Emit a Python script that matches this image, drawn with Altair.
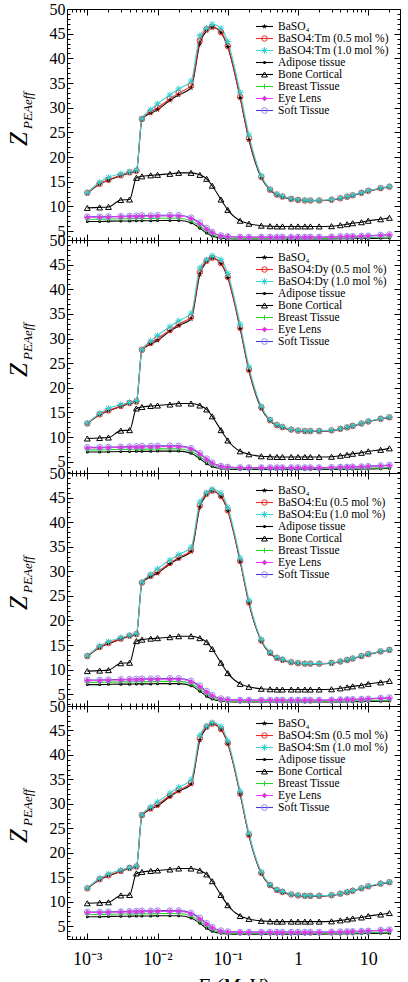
import altair as alt
import pandas as pd

# Photon energies (MeV) shared by every series
energy = [0.001, 0.0015, 0.002, 0.003, 0.004, 0.005, 0.006, 0.008, 0.01, 0.015,
          0.02, 0.03, 0.04, 0.05, 0.06, 0.08, 0.1, 0.15, 0.2, 0.3, 0.4, 0.5, 0.6,
          0.8, 1.0, 1.25, 1.5, 2.0, 3.0, 4.0, 5.0, 6.0, 8.0, 10.0, 15.0, 20.0]

# Z_PEAeff of the host and the doped phosphors
baso4 = [12.7, 14.5, 15.3, 16.2, 16.8, 17.1, 27.65, 28.9, 29.6, 31.5, 32.6, 34.0,
         43.0, 45.6, 46.3, 45.2, 42.3, 32.0, 23.5, 15.8, 13.3, 12.3, 11.9, 11.45,
         11.25, 11.15, 11.15, 11.15, 11.3, 11.6, 11.9, 12.2, 12.7, 13.1, 13.65, 13.95]

tm_05 = [12.75, 14.6, 15.4, 16.3, 16.9, 17.2, 27.7, 29.2, 30.0, 31.8, 33.0, 34.5,
         43.6, 45.9, 46.4, 45.3, 42.5, 32.2, 23.8, 16.0, 13.4, 12.4, 12.0, 11.5,
         11.3, 11.2, 11.2, 11.2, 11.35, 11.65, 11.95, 12.25, 12.75, 13.15, 13.7, 14.0]
tm_10 = [12.8, 14.9, 15.9, 16.6, 17.0, 17.4, 27.75, 29.6, 30.8, 32.6, 33.8, 35.4,
         44.6, 46.1, 46.9, 46.1, 43.4, 33.1, 24.5, 16.2, 13.5, 12.5, 12.1, 11.55,
         11.35, 11.25, 11.25, 11.25, 11.4, 11.7, 12.0, 12.3, 12.8, 13.2, 13.75, 14.05]

dy_05 = [12.75, 14.6, 15.4, 16.3, 16.9, 17.2, 27.7, 29.1, 30.0, 31.7, 32.9, 34.4,
         43.5, 45.8, 46.4, 45.3, 42.5, 32.2, 23.7, 16.0, 13.4, 12.4, 12.0, 11.5,
         11.3, 11.2, 11.2, 11.2, 11.35, 11.65, 11.95, 12.25, 12.75, 13.15, 13.7, 14.0]
dy_10 = [12.8, 14.8, 15.8, 16.6, 17.0, 17.4, 27.75, 29.5, 30.6, 32.4, 33.6, 35.1,
         44.3, 46.0, 46.8, 46.0, 43.2, 32.9, 24.3, 16.2, 13.5, 12.5, 12.1, 11.55,
         11.35, 11.25, 11.25, 11.25, 11.4, 11.7, 12.0, 12.3, 12.8, 13.2, 13.75, 14.05]

eu_05 = [12.75, 14.6, 15.4, 16.3, 16.9, 17.2, 27.7, 29.1, 29.9, 31.7, 32.8, 34.3,
         43.4, 45.8, 46.4, 45.3, 42.4, 32.1, 23.7, 15.9, 13.4, 12.4, 12.0, 11.5,
         11.3, 11.2, 11.2, 11.2, 11.35, 11.65, 11.95, 12.25, 12.75, 13.15, 13.7, 14.0]
eu_10 = [12.8, 14.8, 15.7, 16.5, 17.0, 17.3, 27.75, 29.4, 30.5, 32.3, 33.4, 34.9,
         44.1, 46.0, 46.7, 45.9, 43.0, 32.7, 24.1, 16.1, 13.5, 12.5, 12.1, 11.55,
         11.35, 11.25, 11.25, 11.25, 11.4, 11.7, 12.0, 12.3, 12.8, 13.2, 13.75, 14.05]

sm_05 = [12.75, 14.6, 15.4, 16.3, 16.9, 17.2, 27.7, 29.1, 29.9, 31.7, 32.8, 34.3,
         43.4, 45.8, 46.4, 45.3, 42.4, 32.1, 23.7, 15.9, 13.4, 12.4, 12.0, 11.5,
         11.3, 11.2, 11.2, 11.2, 11.35, 11.65, 11.95, 12.25, 12.75, 13.15, 13.7, 14.0]
sm_10 = [12.8, 14.8, 15.7, 16.5, 17.0, 17.3, 27.75, 29.4, 30.4, 32.2, 33.4, 34.9,
         44.0, 45.9, 46.6, 45.8, 42.9, 32.6, 24.0, 16.1, 13.5, 12.5, 12.1, 11.55,
         11.35, 11.25, 11.25, 11.25, 11.4, 11.7, 12.0, 12.3, 12.8, 13.2, 13.75, 14.05]

# Reference tissues
adipose = [6.95, 6.95, 7.0, 7.05, 7.05, 7.1, 7.1, 7.1, 7.15, 7.15, 7.15, 6.7,
           5.6, 4.6, 4.0, 3.55, 3.45, 3.4, 3.4, 3.4, 3.4, 3.4, 3.4, 3.4,
           3.4, 3.4, 3.4, 3.4, 3.42, 3.44, 3.46, 3.48, 3.5, 3.52, 3.56, 3.6]
bone_cortical = [9.7, 9.8, 9.9, 11.3, 11.4, 15.8, 16.1, 16.3, 16.4, 16.6, 16.8, 16.8,
                 16.4, 15.6, 14.2, 11.4, 9.3, 7.1, 6.5, 6.1, 6.0, 5.95, 5.95, 5.95,
                 5.95, 5.95, 5.95, 5.95, 6.0, 6.2, 6.4, 6.6, 6.8, 7.1, 7.4, 7.7]
breast_tissue = [7.4, 7.4, 7.45, 7.5, 7.5, 7.55, 7.55, 7.55, 7.6, 7.6, 7.6, 7.1,
                 6.0, 5.0, 4.3, 3.75, 3.6, 3.55, 3.55, 3.55, 3.55, 3.55, 3.55, 3.55,
                 3.55, 3.55, 3.55, 3.55, 3.58, 3.6, 3.62, 3.64, 3.67, 3.7, 3.75, 3.8]
eye_lens = [7.8, 7.8, 7.85, 7.9, 7.95, 7.95, 8.0, 8.0, 8.05, 8.05, 8.05, 7.55,
            6.5, 5.45, 4.7, 4.0, 3.85, 3.75, 3.75, 3.75, 3.75, 3.75, 3.75, 3.75,
            3.75, 3.75, 3.75, 3.75, 3.8, 3.85, 3.9, 3.92, 3.97, 4.02, 4.12, 4.2]
soft_tissue = [7.9, 7.9, 7.95, 8.0, 8.05, 8.1, 8.15, 8.15, 8.2, 8.2, 8.2, 7.7,
               6.7, 5.6, 4.8, 4.1, 3.9, 3.8, 3.8, 3.8, 3.8, 3.8, 3.8, 3.8,
               3.8, 3.8, 3.8, 3.8, 3.85, 3.9, 3.92, 3.95, 4.0, 4.05, 4.2, 4.3]

dopants = ["Tm", "Dy", "Eu", "Sm"]
dopant_05 = [tm_05, dy_05, eu_05, sm_05]
dopant_10 = [tm_10, dy_10, eu_10, sm_10]

FONT = "Liberation Serif"
X_DOMAIN = [5.14e-4, 28.3]
PANEL_W = 333
panel_heights = [231, 233, 233, 233]
panel_ymin = [3.2, 2.7, 2.6, 2.4]

X_MAJOR = [0.001, 0.01, 0.1, 1, 10]
X_MINOR = [m * 10.0 ** p for p in range(-4, 2) for m in range(2, 10)
           if X_DOMAIN[0] <= m * 10.0 ** p <= X_DOMAIN[1]]
Y_MAJOR = list(range(5, 51, 5))
Y_MINOR = [v for v in range(3, 50) if v % 5]

STAR = ("M0,-1L0.2245,-0.309L0.951,-0.309L0.363,0.118L0.588,0.809L0,0.382"
        "L-0.588,0.809L-0.363,0.118L-0.951,-0.309L-0.2245,-0.309Z")
ASTER = "M-1,0L1,0M0,-1L0,1M-0.75,-0.75L0.75,0.75M-0.75,0.75L0.75,-0.75"
PLUS = "M-1,0L1,0M0,-1L0,1"

DRAW_ORDER = ["adipose", "breast", "soft", "eye", "bone", "baso4", "d05", "d10"]
LEGEND_ORDER = ["baso4", "d05", "d10", "adipose", "bone", "breast", "eye", "soft"]

LINE_COLOR = {"baso4": "#000000", "d05": "#ee2a26", "d10": "#3ad6d6",
              "adipose": "#000000", "bone": "#000000", "breast": "#2ad12a",
              "eye": "#f03cf0", "soft": "#4a3cd0"}

# marker style per series: (shape, size, filled, colour)
MARKER = {"baso4": (STAR, 34, True, "#000000"),
          "d05": ("circle", 30, False, "#e8302c"),
          "d10": (ASTER, 42, False, "#33d0d0"),
          "adipose": ("circle", 9, True, "#000000"),
          "bone": ("triangle-up", 34, False, "#000000"),
          "breast": (PLUS, 26, False, "#2ad12a"),
          "eye": ("diamond", 30, True, "#dd38dd"),
          "soft": ("circle", 34, False, "#9588f0")}

LEG_TOP, LEG_STEP = 17.5, 12
LEG_X0, LEG_X1, LEG_XM, LEG_XT = 189, 206, 197.5, 211


def x_label_expr():
    return ("datum.value < 0.0015 ? '10\u207b\u00b3' : datum.value < 0.015 ? '10\u207b\u00b2' : "
            "datum.value < 0.15 ? '10\u207b\u00b9' : datum.value < 1.5 ? '1' : '10'")


def make_panel(i):
    h = panel_heights[i]
    last = i == len(dopants) - 1
    dop = dopants[i]
    values = {"baso4": baso4, "d05": dopant_05[i], "d10": dopant_10[i],
              "adipose": adipose, "bone": bone_cortical, "breast": breast_tissue,
              "eye": eye_lens, "soft": soft_tissue}
    labels = {"baso4": "BaSO\u2084", "d05": f"BaSO4:{dop} (0.5 mol %)",
              "d10": f"BaSO4:{dop} (1.0 mol %)", "adipose": "Adipose tissue",
              "bone": "Bone Cortical", "breast": "Breast Tissue",
              "eye": "Eye Lens", "soft": "Soft Tissue"}

    rows = [{"E": e, "Z": z, "key": k} for k in DRAW_ORDER for e, z in zip(energy, values[k])]
    df = pd.DataFrame(rows)
    leg = pd.DataFrame({"key": LEGEND_ORDER,
                        "label": [labels[k] for k in LEGEND_ORDER],
                        "idx": list(range(len(LEGEND_ORDER)))})

    xs = alt.Scale(type="log", domain=X_DOMAIN, nice=False)
    ys = alt.Scale(domain=[panel_ymin[i], 50], nice=False, zero=False)

    tk = dict(domain=False, grid=False, labels=False, ticks=True,
              tickColor="black", tickWidth=1, title=None)
    x_axes = [
        alt.Axis(orient="top", offset=-h, values=X_MAJOR, tickSize=6, **tk),
        alt.Axis(orient="top", offset=-h, values=X_MINOR, tickSize=3, **tk),
        alt.Axis(orient="bottom", offset=-h, values=X_MAJOR, tickSize=6, **tk),
        alt.Axis(orient="bottom", offset=-h, values=X_MINOR, tickSize=3, **tk),
        alt.Axis(orient="bottom", values=X_MAJOR, ticks=False, domain=False, grid=False,
                 labels=last, labelExpr=x_label_expr(), labelFont=FONT,
                 labelFontSize=18, labelColor="black", labelPadding=11, title=None),
    ]
    y_axes = [
        alt.Axis(orient="right", offset=-PANEL_W, values=Y_MAJOR, tickSize=6, **tk),
        alt.Axis(orient="right", offset=-PANEL_W, values=Y_MINOR, tickSize=3, **tk),
        alt.Axis(orient="left", offset=-PANEL_W, values=Y_MAJOR, tickSize=6, **tk),
        alt.Axis(orient="left", offset=-PANEL_W, values=Y_MINOR, tickSize=3, **tk),
        alt.Axis(orient="left", values=Y_MAJOR, ticks=False, domain=False, grid=False,
                 labelFont=FONT, labelFontSize=16, labelColor="black",
                 labelPadding=2, labelFlush=False, title=None),
    ]

    layers = []
    # curves
    for n, k in enumerate(DRAW_ORDER):
        layers.append(
            alt.Chart(df).transform_filter(alt.datum.key == k)
            .mark_line(color=LINE_COLOR[k], strokeWidth=1.1, interpolate="monotone")
            .encode(x=alt.X("E:Q", scale=xs, axis=x_axes[n] if n < 5 else None),
                    y=alt.Y("Z:Q", scale=ys, axis=y_axes[n] if n < 5 else None))
        )
    # markers
    for k in DRAW_ORDER:
        shape, size, filled, col = MARKER[k]
        layers.append(
            alt.Chart(df).transform_filter(alt.datum.key == k)
            .mark_point(shape=shape, size=size, filled=filled, color=col,
                        strokeWidth=1, opacity=1)
            .encode(x=alt.X("E:Q", scale=xs, axis=None),
                    y=alt.Y("Z:Q", scale=ys, axis=None))
        )

    # legend
    leg_base = alt.Chart(leg).transform_calculate(ly=f"{LEG_TOP} + datum.idx * {LEG_STEP}")
    layers.append(
        leg_base.mark_rule(strokeWidth=1.1).encode(
            x=alt.value(LEG_X0), x2=alt.value(LEG_X1),
            y=alt.Y("ly:Q", scale=None, axis=None),
            color=alt.Color("key:N", scale=alt.Scale(domain=LEGEND_ORDER,
                            range=[LINE_COLOR[k] for k in LEGEND_ORDER]), legend=None))
    )
    for k in LEGEND_ORDER:
        shape, size, filled, col = MARKER[k]
        layers.append(
            leg_base.transform_filter(alt.datum.key == k)
            .mark_point(shape=shape, size=size, filled=filled, color=col,
                        strokeWidth=1, opacity=1)
            .encode(x=alt.value(LEG_XM), y=alt.Y("ly:Q", scale=None, axis=None))
        )
    layers.append(
        leg_base.mark_text(align="left", baseline="middle", font=FONT,
                           fontSize=11.5, color="black")
        .encode(x=alt.value(LEG_XT), y=alt.Y("ly:Q", scale=None, axis=None),
                text="label:N")
    )

    # y title: Z with subscript PEAeff
    layers.append(
        alt.Chart(pd.DataFrame({"t": ["Z"]}))
        .mark_text(angle=270, align="center", baseline="middle", font=FONT,
                   fontStyle="italic", fontSize=25, color="black")
        .encode(text="t:N", x=alt.value(-48.5), y=alt.value(130))
    )
    layers.append(
        alt.Chart(pd.DataFrame({"t": ["PEAeff"]}))
        .mark_text(angle=270, align="center", baseline="middle", font=FONT,
                   fontStyle="italic", fontSize=13, color="black")
        .encode(text="t:N", x=alt.value(-39.5), y=alt.value(101.5))
    )
    if last:
        layers.append(
            alt.Chart(pd.DataFrame({"t": ["E (MeV)"]}))
            .mark_text(align="center", baseline="top", font=FONT,
                       fontStyle="italic", fontSize=21, color="black")
            .encode(text="t:N", x=alt.value(166), y=alt.value(h + 37))
        )

    return (alt.layer(*layers)
            .resolve_axis(x="independent", y="independent")
            .properties(width=PANEL_W, height=h))


chart = (
    alt.vconcat(*[make_panel(i) for i in range(len(dopants))], spacing=0, bounds="flush")
    .properties(padding={"left": 6, "top": 0, "right": 0, "bottom": 0},
                background="white")
    .configure_view(stroke="black", strokeWidth=1)
    .configure_axis(grid=False)
)

chart.save("out.html", embed_options={"renderer": "svg", "actions": False})
